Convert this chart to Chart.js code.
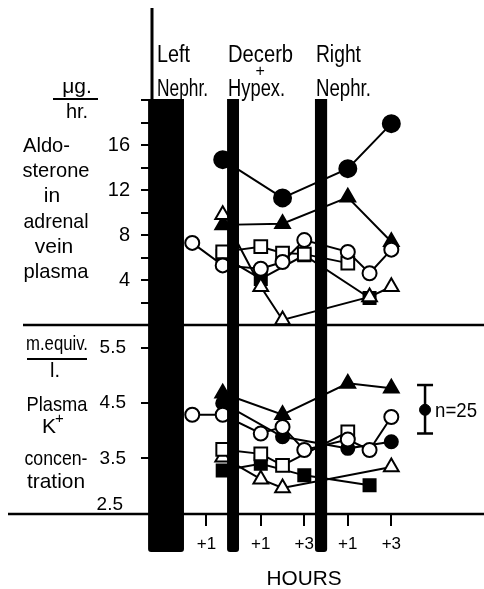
<!DOCTYPE html>
<html><head><meta charset="utf-8">
<script src="https://cdn.jsdelivr.net/npm/chart.js@4.4.1/dist/chart.umd.min.js"></script>
<style>html,body{margin:0;padding:0;background:#fff;}canvas{display:block;}</style>
</head><body>
<canvas id="c" width="484" height="589"></canvas>
<script>
// ---- data (hours on a common time line; events are black bars) ----
const hours = [1.85, 3.25, 5, 6, 7, 9, 10, 11];

// Aldosterone in adrenal vein plasma (µg/hr)
const aldoFilledCircle = [null, 14.7, null, 11.3, null, 13.9, null, 17.9];
const aldoFilledTri    = [null, 8.9,  null, 9.0,  null, 11.35, null, 7.4];
const aldoOpenTri      = [null, 9.8,  3.4,  0.45, null, null, 2.5, 3.4];
const aldoOpenCircle   = [7.3,  5.3,  5.0,  5.6,  7.55, 6.5,  4.6, 6.7];
const aldoOpenSquare   = [null, 6.5,  6.96, 6.4,  6.3,  5.5,  null, null];
const aldoFilledSquare = [null, 6.1,  4.1,  null, 6.2,  null, 2.4, null];

// Plasma K+ concentration (m.equiv./l.)
const kFilledCircle = [null, 4.5,  null, 3.89, null, 3.68, null, 3.80];
const kFilledTri    = [null, 4.68, null, 4.29, null, 4.86, null, 4.77];
const kOpenTri      = [null, 3.52, 3.12, 2.96, null, null, null, 3.34];
const kOpenCircle   = [4.29, 4.29, 3.95, 4.07, 3.65, 3.84, 3.65, 4.25];
const kOpenSquare   = [null, 3.66, 3.58, 3.37, null, 3.98, null, null];
const kFilledSquare = [null, 3.28, 3.40, null, 3.19, null, 3.01, null];

// mean +/- error marker
const errX = [12.55];
const errMean = [4.38];
const errLow = [3.95];
const errHigh = [4.83];
const errLabel = 'n=25';

// axes / ticks
const xTickValues = [2.5, 5, 7, 9, 11];
const xTickLabels = ['+1', '+1', '+3', '+1', '+3'];
const aldoTickValues = [2, 4, 6, 8, 10, 12, 14, 16, 18, 20];
const aldoTickLabels = [4, 8, 12, 16];
const kTickValues = [3.5, 4.5, 5.5];
const kBottomLabel = [2.5];

// events (hours)
const eventTop = ['Left', 'Decerb', 'Right'];
const eventBottom = ['Nephr.', 'Hypex.', 'Nephr.'];
const eventStart = [-0.18, 3.45, 7.49];
const eventEnd = [1.47, 4.0, 8.05];

const FONT = "'Liberation Sans', Arial, sans-serif";

function pts(arr) {
  const out = [];
  arr.forEach((v, i) => { if (v !== null) out.push({x: hours[i], y: v}); });
  return out;
}
function ds(arr, axis, shape, filled, r) {
  return {
    data: pts(arr), yAxisID: axis, showLine: true, tension: 0, fill: false,
    borderColor: '#000', borderWidth: 2, clip: false,
    pointStyle: shape, pointRadius: r, pointHoverRadius: r,
    pointBackgroundColor: filled ? '#000' : '#fff', pointBorderColor: '#000', pointBorderWidth: 2
  };
}

const datasets = [
  ds(aldoOpenCircle, 'yA', 'circle', false, 7),
  ds(aldoOpenSquare, 'yA', 'rect', false, 9),
  ds(aldoOpenTri, 'yA', 'triangle', false, 8.5),
  ds(aldoFilledSquare, 'yA', 'rect', true, 8.5),
  ds(aldoFilledTri, 'yA', 'triangle', true, 8.5),
  ds(aldoFilledCircle, 'yA', 'circle', true, 8.5),
  ds(kOpenCircle, 'yK', 'circle', false, 7),
  ds(kOpenSquare, 'yK', 'rect', false, 9),
  ds(kOpenTri, 'yK', 'triangle', false, 8.5),
  ds(kFilledSquare, 'yK', 'rect', true, 8.5),
  ds(kFilledTri, 'yK', 'triangle', true, 8.5),
  ds(kFilledCircle, 'yK', 'circle', true, 6.5),
  {data: errX.map((x, i) => ({x: x, y: errMean[i]})), yAxisID: 'yK', showLine: false, clip: false,
   pointStyle: 'circle', pointRadius: 5.5, pointHoverRadius: 5.5,
   pointBackgroundColor: '#000', pointBorderColor: '#000', pointBorderWidth: 1}
];

// text drawn with a given left/centre/right anchor and optionally squeezed to a target width
function txt(ctx, s, x, y, size, align, w) {
  ctx.save();
  ctx.font = size + 'px ' + FONT;
  ctx.textBaseline = 'alphabetic';
  ctx.textAlign = 'left';
  const m = ctx.measureText(s).width;
  const sx = w ? w / m : 1;
  const drawnW = m * sx;
  let left = x;
  if (align === 'center') left = x - drawnW / 2;
  else if (align === 'right') left = x - drawnW;
  ctx.translate(left, y);
  ctx.scale(sx, 1);
  ctx.fillText(s, 0, 0);
  ctx.restore();
}
function hline(ctx, x1, x2, y, w) {
  ctx.lineWidth = w; ctx.beginPath(); ctx.moveTo(x1, y); ctx.lineTo(x2, y); ctx.stroke();
}

const bg = {id: 'bg', beforeDraw(c) {
  const ctx = c.ctx; ctx.save(); ctx.fillStyle = '#fff'; ctx.fillRect(0, 0, c.width, c.height); ctx.restore();
}};

const deco = {id: 'deco', afterDatasetsDraw(c) {
  const ctx = c.ctx, x = c.scales.x, yA = c.scales.yA, yK = c.scales.yK, a = c.chartArea;
  ctx.save();
  ctx.fillStyle = '#000'; ctx.strokeStyle = '#000'; ctx.lineCap = 'butt';
  // event bars
  const top = yA.getPixelForValue(20) - 1, bot = a.bottom + 37;
  for (let i = 0; i < eventStart.length; i++) {
    const l = x.getPixelForValue(eventStart[i]), r = x.getPixelForValue(eventEnd[i]);
    ctx.beginPath();
    ctx.roundRect(l, top, r - l, bot - top, [0, 0, 3, 3]);
    ctx.fill();
  }
  // axis line + panel lines
  ctx.lineWidth = 3;
  ctx.beginPath(); ctx.moveTo(a.left, 8); ctx.lineTo(a.left, a.bottom); ctx.stroke();
  hline(ctx, 23, a.right, yA.getPixelForValue(0), 2.5);
  hline(ctx, 8, a.right, a.bottom - 1, 2.5);
  // error bar
  for (let i = 0; i < errX.length; i++) {
    const ex = x.getPixelForValue(errX[i]);
    const y1 = yK.getPixelForValue(errHigh[i]), y2 = yK.getPixelForValue(errLow[i]);
    ctx.lineWidth = 2.5;
    ctx.beginPath(); ctx.moveTo(ex, y1); ctx.lineTo(ex, y2); ctx.stroke();
    hline(ctx, ex - 8, ex + 8, y1, 2.5);
    hline(ctx, ex - 8, ex + 8, y2, 2.5);
    txt(ctx, errLabel, ex + 10, yK.getPixelForValue(errMean[i]) + 7, 21, 'left', 42);
  }
  // event labels
  const topW = [33, 65, 45], botW = [51, 57, 55];
  for (let i = 0; i < eventStart.length; i++) {
    const l = i === 0 ? a.left + 5 : x.getPixelForValue(eventStart[i]) + 1;
    txt(ctx, eventTop[i], l, 62, 23, 'left', topW[i]);
    txt(ctx, eventBottom[i], l, 96, 23, 'left', botW[i]);
  }
  txt(ctx, '+', x.getPixelForValue(eventStart[1]) + 33, 76, 16, 'center');
  // left panel labels (aldosterone)
  txt(ctx, 'μg.', 77, 93, 21, 'center');
  hline(ctx, 53, 98, 99, 2);
  txt(ctx, 'hr.', 77, 118, 20, 'center');
  txt(ctx, 'Aldo-', 23, 152, 21, 'left', 47);
  txt(ctx, 'sterone', 56, 177, 21, 'center', 67);
  txt(ctx, 'in', 52, 202, 21, 'center');
  txt(ctx, 'adrenal', 56, 228, 21, 'center', 65);
  txt(ctx, 'vein', 54, 253, 21, 'center');
  txt(ctx, 'plasma', 56, 278, 21, 'center', 65);
  // left panel labels (potassium)
  txt(ctx, 'm.equiv.', 57, 350, 20, 'center', 62);
  hline(ctx, 27, 87, 359, 2);
  txt(ctx, 'l.', 55, 377, 20, 'center');
  txt(ctx, 'Plasma', 57, 411, 21, 'center', 61);
  txt(ctx, 'K', 42, 433, 21, 'left');
  txt(ctx, '+', 55, 423, 15, 'left');
  txt(ctx, 'concen-', 56, 465, 21, 'center', 63);
  txt(ctx, 'tration', 56, 488, 21, 'center', 58);
  // bottom tick label sitting above panel line
  kBottomLabel.forEach(v => txt(ctx, v.toFixed(1), 123, yK.getPixelForValue(v) - 3, 19, 'right'));
  // x title
  txt(ctx, 'HOURS', 304, 585, 21, 'center', 75);
  ctx.restore();
}};

const tickGrid = {drawOnChartArea: false, drawTicks: true, tickLength: 11, color: '#000', lineWidth: 2};

new Chart(document.getElementById('c'), {
  type: 'scatter',
  data: {datasets: datasets},
  options: {
    responsive: false, devicePixelRatio: 1, animation: false,
    layout: {autoPadding: false, padding: {top: 100, left: 0, right: 0, bottom: 0}},
    plugins: {legend: {display: false}, tooltip: {enabled: false}},
    events: [],
    scales: {
      x: {
        type: 'linear', position: 'bottom', min: 0, max: 15.26,
        afterBuildTicks: s => { s.ticks = xTickValues.map(v => ({value: v})); },
        afterFit: s => { s.height = 74; },
        ticks: {callback: v => xTickLabels[xTickValues.indexOf(v)], color: '#000',
                font: {family: FONT, size: 17}, padding: 8, maxRotation: 0, autoSkip: false},
        grid: tickGrid, border: {display: false}
      },
      yA: {
        type: 'linear', position: 'left', stack: 'panels', stackWeight: 225, weight: 2,
        min: 0, max: 20,
        afterBuildTicks: s => { s.ticks = aldoTickValues.map(v => ({value: v})); },
        afterFit: s => { s.width = 152; },
        ticks: {callback: v => aldoTickLabels.includes(v) ? String(v) : '', color: '#000',
                font: {family: FONT, size: 20}, padding: 11, autoSkip: false},
        grid: tickGrid, border: {display: false}
      },
      yK: {
        type: 'linear', position: 'left', stack: 'panels', stackWeight: 190, weight: 1,
        min: 2.47, max: 5.92,
        afterBuildTicks: s => { s.ticks = kTickValues.map(v => ({value: v})); },
        afterFit: s => { s.width = 152; },
        ticks: {callback: v => v.toFixed(1), color: '#000',
                font: {family: FONT, size: 19}, padding: 15, autoSkip: false},
        grid: tickGrid, border: {display: false}
      }
    }
  },
  plugins: [bg, deco]
});
</script>
</body></html>
